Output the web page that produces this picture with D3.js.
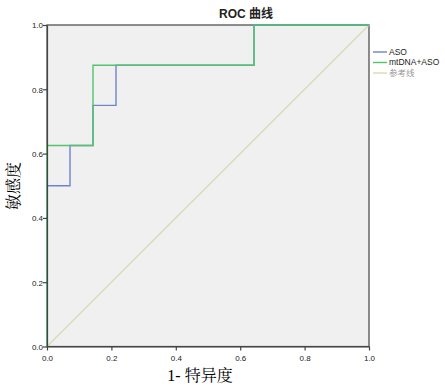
<!DOCTYPE html>
<html>
<head>
<meta charset="utf-8">
<script src="https://cdn.jsdelivr.net/npm/d3@7"></script>
<style>
  body { margin: 0; background: #fff; }
  text { font-family: Arial, "Liberation Sans", "Noto Sans CJK SC", sans-serif; }
</style>
</head>
<body>
<svg id="chart"></svg>
<script>
// ROC points (x = 1 - specificity, y = sensitivity)
var aso_x   = [0, 0, 1/14, 1/14, 2/14, 2/14, 3/14, 3/14, 9/14, 9/14, 1];
var aso_y   = [0, 0.5, 0.5, 0.625, 0.625, 0.75, 0.75, 0.875, 0.875, 1, 1];
var combo_x = [0, 0, 2/14, 2/14, 9/14, 9/14, 1];
var combo_y = [0, 0.625, 0.625, 0.875, 0.875, 1, 1];
var ref_x   = [0, 1];
var ref_y   = [0, 1];
var ticks   = [0, 0.2, 0.4, 0.6, 0.8, 1.0];
var legend_names = ["ASO", "mtDNA+ASO", "参考线"];

var width = 445, height = 389;
// note: "top" is a read-only global in browsers, so use plot_* names
var plot_left = 47, plot_right = 369, plot_top = 25, plot_bottom = 346.5;

var svg = d3.select("#chart").attr("width", width).attr("height", height);

var x = d3.scaleLinear().domain([0, 1]).range([plot_left, plot_right]);
var y = d3.scaleLinear().domain([0, 1]).range([plot_bottom, plot_top]);

// plot background
svg.append("rect")
    .attr("x", plot_left).attr("y", plot_top)
    .attr("width", plot_right - plot_left).attr("height", plot_bottom - plot_top)
    .attr("fill", "#f0f0f0");

var line = d3.line()
    .x(function (d) { return x(d[0]); })
    .y(function (d) { return y(d[1]); });

var series = [
  { name: legend_names[0], xs: aso_x,   ys: aso_y,   color: "#6f83c9" },
  { name: legend_names[1], xs: combo_x, ys: combo_y, color: "#52c46e" },
  { name: legend_names[2], xs: ref_x,   ys: ref_y,   color: "#dcdab4" }
];

// frame
svg.append("rect")
    .attr("x", plot_left).attr("y", plot_top)
    .attr("width", plot_right - plot_left).attr("height", plot_bottom - plot_top)
    .attr("fill", "none").attr("stroke", "#444").attr("stroke-width", 1.2);

// draw reference first, then ASO, then combo on top
[series[2], series[0], series[1]].forEach(function (s) {
  svg.append("path")
      .datum(s.xs.map(function (v, i) { return [v, s.ys[i]]; }))
      .attr("fill", "none")
      .attr("stroke", s.color)
      .attr("stroke-width", 1.4)
      .attr("d", line);
});

// axes
var xAxis = d3.axisBottom(x).tickValues(ticks).tickFormat(d3.format(".1f")).tickSize(4).tickSizeOuter(0);
var yAxis = d3.axisLeft(y).tickValues(ticks).tickFormat(d3.format(".1f")).tickSize(4).tickSizeOuter(0);

var gx = svg.append("g").attr("transform", "translate(0," + plot_bottom + ")").call(xAxis);
var gy = svg.append("g").attr("transform", "translate(" + plot_left + ",0)").call(yAxis);
[gx, gy].forEach(function (g) {
  g.select(".domain").attr("stroke", "#444").attr("stroke-width", 1.2);
  g.selectAll(".tick line").attr("stroke", "#444").attr("stroke-width", 1.2);
  g.selectAll(".tick text").attr("fill", "#222").style("font-size", "8px");
});
gx.selectAll(".tick text").attr("dy", "0.9em");
gy.selectAll(".tick text").attr("dy", "0.35em").attr("x", -4);

// title
svg.append("text")
    .attr("x", 246).attr("y", 18)
    .attr("text-anchor", "middle")
    .style("font-size", "12px").style("font-weight", "bold")
    .attr("fill", "#222")
    .text("ROC 曲线");

// axis titles
svg.append("text")
    .attr("x", 200).attr("y", 381)
    .attr("text-anchor", "middle")
    .style("font-family", "'Liberation Serif', 'Noto Serif CJK SC', 'Noto Sans CJK SC', serif")
    .style("font-size", "16px")
    .text("1- 特异度");

svg.append("text")
    .attr("transform", "translate(19," + 186 + ") rotate(-90)")
    .attr("text-anchor", "middle")
    .style("font-family", "'Liberation Serif', 'Noto Serif CJK SC', 'Noto Sans CJK SC', serif")
    .style("font-size", "16px")
    .text("敏感度");

// legend
var legend = svg.append("g");
series.forEach(function (s, i) {
  var ly = 52 + i * 10.5;
  legend.append("line")
      .attr("x1", 373).attr("x2", 387)
      .attr("y1", ly).attr("y2", ly)
      .attr("stroke", s.color).attr("stroke-width", 1.4);
  legend.append("text")
      .attr("x", 389).attr("y", ly)
      .attr("dy", "0.35em")
      .style("font-size", "8.5px")
      .attr("fill", i === 2 ? "#999" : "#222")
      .text(s.name);
});
</script>
</body>
</html>
